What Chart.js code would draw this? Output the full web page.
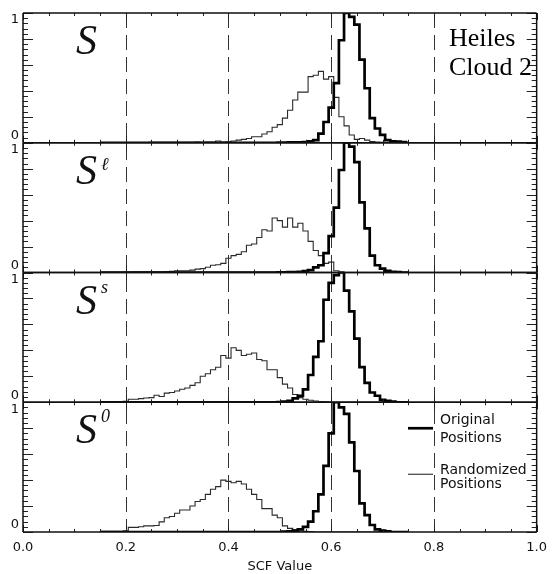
<!DOCTYPE html>
<html><head><meta charset="utf-8">
<script src="https://cdn.jsdelivr.net/npm/chart.js@4.4.0/dist/chart.umd.min.js"></script>
<style>html,body{margin:0;padding:0;background:#fff;}canvas{display:block;}</style>
</head><body>
<canvas id="c" width="555" height="574"></canvas>
<script>
// bin centres (SCF value)
const scfBins = [0.15,0.16,0.17,0.18,0.19,0.20,0.21,0.22,0.23,0.24,
                 0.25,0.26,0.27,0.28,0.29,0.30,0.31,0.32,0.33,0.34,
                 0.35,0.36,0.37,0.38,0.39,0.40,0.41,0.42,0.43,0.44,
                 0.45,0.46,0.47,0.48,0.49,0.50,0.51,0.52,0.53,0.54,
                 0.55,0.56,0.57,0.58,0.59,0.60,0.61,0.62,0.63,0.64,
                 0.65,0.66,0.67,0.68,0.69,0.70,0.71,0.72,0.73,0.74,
                 0.75];

// Panel S
const origS = [0,0,0,0,0,0,0,0,0,0,
               0,0,0,0,0,0,0,0,0,0,
               0,0,0,0,0,0,0,0,0,0,
               0,0,0,0,0,0.002,0.002,0.003,0.003,0.004,
               0.005,0.01,0.02,0.07,0.16,0.27,0.46,0.79,1.0,0.97,
               0.91,0.64,0.42,0.19,0.11,0.06,0.02,0.01,0.008,0.005,
               0];
const randS = [0,0,0,0,0,0,0,0,0,0,
               0.003,0.003,0.003,0.003,0.003,0.004,0.003,0.004,0.004,0.005,
               0.004,0.005,0.006,0.013,0.006,0.008,0.013,0.02,0.026,0.033,
               0.046,0.046,0.067,0.085,0.12,0.14,0.19,0.25,0.33,0.39,
               0.39,0.51,0.52,0.55,0.49,0.51,0.35,0.20,0.13,0.06,
               0.026,0.033,0.02,0.01,0.005,0.003,0,0,0,0,
               0];
// Panel S^l
const origL = [0,0,0,0,0,0,0,0,0,0,
               0,0,0,0,0,0,0,0,0,0,
               0,0,0,0,0,0,0,0,0,0,
               0,0,0,0,0,0.002,0.002,0.003,0.004,0.005,
               0.01,0.018,0.04,0.056,0.15,0.28,0.50,0.79,1.0,0.97,
               0.85,0.54,0.34,0.13,0.056,0.03,0.013,0.005,0.003,0,
               0];
const randL = [0,0,0,0,0,0.002,0.002,0.003,0.003,0.003,
               0.003,0.004,0.004,0.005,0.01,0.013,0.013,0.013,0.018,0.026,
               0.03,0.04,0.056,0.06,0.07,0.11,0.13,0.14,0.16,0.21,
               0.22,0.27,0.33,0.32,0.42,0.40,0.35,0.42,0.35,0.38,
               0.32,0.24,0.17,0.13,0.07,0.08,0.013,0.005,0,0,
               0,0,0,0,0,0,0,0,0,0,
               0];
// Panel S^s
const origSs = [0,0,0,0,0,0,0,0,0,0,
                0,0,0,0,0,0,0,0,0,0,
                0,0,0,0,0,0,0,0,0,0,
                0,0,0,0,0,0.002,0.005,0.01,0.03,0.05,
                0.10,0.21,0.35,0.47,0.79,0.92,0.98,1.0,0.86,0.70,
                0.49,0.27,0.15,0.075,0.05,0.018,0.01,0.005,0,0,
                0];
const randSs = [0.003,0.004,0.004,0.005,0.006,0.008,0.023,0.023,0.028,0.033,
                0.036,0.054,0.044,0.07,0.075,0.087,0.10,0.11,0.13,0.15,
                0.20,0.22,0.25,0.27,0.36,0.34,0.42,0.40,0.36,0.37,
                0.38,0.33,0.32,0.25,0.25,0.19,0.14,0.11,0.06,0.036,
                0.023,0.015,0.01,0.005,0.003,0,0,0,0,0,
                0,0,0,0,0,0,0,0,0,0,
                0];
// Panel S^0
const orig0 = [0,0,0,0,0,0,0,0,0,0,
               0,0,0,0,0,0,0,0,0,0,
               0,0,0,0,0,0,0,0,0,0,
               0,0,0,0,0,0,0.003,0.005,0.01,0.02,
               0.04,0.08,0.16,0.29,0.51,0.76,1.0,0.96,0.91,0.69,
               0.47,0.22,0.13,0.054,0.02,0.01,0.005,0,0,0,
               0];
const rand0 = [0.005,0.005,0.005,0.005,0.005,0.01,0.036,0.036,0.04,0.047,
               0.047,0.05,0.078,0.11,0.12,0.145,0.17,0.17,0.20,0.235,
               0.25,0.29,0.33,0.35,0.40,0.39,0.38,0.39,0.37,0.33,
               0.29,0.25,0.18,0.18,0.13,0.11,0.047,0.028,0.015,0.008,
               0.005,0.003,0,0,0,0,0,0,0,0,
               0,0,0,0,0,0,0,0,0,0,
               0];

const panelIds = ['y1','y2','y3','y4'];
const panelOrig = [origS, origL, origSs, orig0];
const panelRand = [randS, randL, randSs, rand0];
const panelSymbol = 'S';
const panelSupers = ['', '\u2113', 's', '0'];
const dashedAt = [0.2, 0.4, 0.6, 0.8];
const yTickLabels = ['0', '1'];
const legendOrig = ['Original', 'Positions'];
const legendRand = ['Randomized', 'Positions'];
const cloudLabel = ['Heiles', 'Cloud 2'];
const xTitle = 'SCF Value';

const toPts = arr => scfBins.map((b, i) => ({x: b, y: arr[i]}));

const datasets = [];
panelIds.forEach((id, k) => {
  datasets.push({data: toPts(panelOrig[k]), yAxisID: id, borderColor: '#000', borderWidth: 2.7,
    stepped: 'middle', pointRadius: 0, fill: false, order: 0});
  datasets.push({data: toPts(panelRand[k]), yAxisID: id, borderColor: '#2a2a2a', borderWidth: 1.1,
    stepped: 'middle', pointRadius: 0, fill: false, order: 1});
});

const panelAxis = () => ({type: 'linear', min: 0, max: 1, display: false, position: 'right',
  stack: 'panels', stackWeight: 1, offset: false});

const SANS = '"DejaVu Sans", sans-serif';
const SERIF = '"Liberation Serif", "Times New Roman", serif';

const framePlugin = {
  id: 'frames',
  beforeDatasetsDraw(chart) {
    const ctx = chart.ctx, xs = chart.scales.x, a = chart.chartArea;
    ctx.save();
    ctx.strokeStyle = '#333'; ctx.lineWidth = 1; ctx.setLineDash([15, 7]);
    dashedAt.forEach(v => {
      const px = Math.round(xs.getPixelForValue(v)) + 0.5;
      ctx.beginPath(); ctx.moveTo(px, a.top); ctx.lineTo(px, a.bottom); ctx.stroke();
    });
    ctx.restore();
  },
  afterDatasetsDraw(chart) {
    const ctx = chart.ctx, xs = chart.scales.x;
    const L = xs.getPixelForValue(0), R = xs.getPixelForValue(1);
    const panels = panelIds.map((id, k) => ({k, s: chart.scales[id]}))
      .sort((p, q) => p.s.getPixelForValue(1) - q.s.getPixelForValue(1));
    ctx.save();
    panels.forEach(({k, s}) => {
      const top = s.getPixelForValue(1), bot = s.getPixelForValue(0);
      ctx.strokeStyle = '#222'; ctx.lineWidth = 1;
      for (let i = 0; i <= 25; i++) {
        const py = Math.round(s.getPixelForValue(i * 0.04)) + 0.5;
        const len = (i % 5 === 0) ? 10 : 5;
        ctx.beginPath();
        ctx.moveTo(L, py); ctx.lineTo(L + len, py);
        ctx.moveTo(R, py); ctx.lineTo(R - len, py);
        ctx.stroke();
      }
      for (let j = 0; j <= 20; j++) {
        const px = Math.round(xs.getPixelForValue(j * 0.05)) + 0.5;
        const len = (j % 4 === 0) ? 7 : 3;
        ctx.beginPath();
        ctx.moveTo(px, top); ctx.lineTo(px, top + len);
        ctx.moveTo(px, bot); ctx.lineTo(px, bot - len);
        ctx.stroke();
      }
      ctx.lineWidth = 1.5; ctx.strokeStyle = '#111';
      ctx.beginPath();
      ctx.moveTo(L, top); ctx.lineTo(R, top);
      ctx.moveTo(L, bot); ctx.lineTo(R, bot);
      ctx.moveTo(L, top); ctx.lineTo(L, bot);
      ctx.moveTo(R, top); ctx.lineTo(R, bot);
      ctx.stroke();
      ctx.fillStyle = '#111'; ctx.font = '13px ' + SANS;
      ctx.textAlign = 'center'; ctx.textBaseline = 'middle';
      ctx.fillText(yTickLabels[1], L - 8, top + 7);
      ctx.fillText(yTickLabels[0], L - 8, bot - 7);
      ctx.textAlign = 'left'; ctx.textBaseline = 'alphabetic';
      ctx.font = 'italic 42px ' + SERIF;
      ctx.fillText(panelSymbol, L + 53, top + 41);
      if (panelSupers[k]) {
        ctx.font = 'italic 18px ' + SERIF;
        ctx.fillText(panelSupers[k], L + 78, top + (k === 1 ? 27 : 20));
      }
    });
    const p1top = panels[0].s.getPixelForValue(1);
    ctx.font = '26px ' + SERIF; ctx.fillStyle = '#000';
    ctx.textAlign = 'left'; ctx.textBaseline = 'alphabetic';
    ctx.fillText(cloudLabel[0], 449, p1top + 33);
    ctx.fillText(cloudLabel[1], 449, p1top + 62);
    const p4top = panels[3].s.getPixelForValue(1);
    ctx.strokeStyle = '#000'; ctx.lineWidth = 2.7;
    ctx.beginPath(); ctx.moveTo(408, p4top + 26); ctx.lineTo(433, p4top + 26); ctx.stroke();
    ctx.strokeStyle = '#2a2a2a'; ctx.lineWidth = 1.1;
    ctx.beginPath(); ctx.moveTo(408, p4top + 72); ctx.lineTo(433, p4top + 72); ctx.stroke();
    ctx.fillStyle = '#111'; ctx.font = '14px ' + SANS;
    ctx.fillText(legendOrig[0], 440, p4top + 22);
    ctx.fillText(legendOrig[1], 440, p4top + 40);
    ctx.fillText(legendRand[0], 440, p4top + 72);
    ctx.fillText(legendRand[1], 440, p4top + 86);
    ctx.restore();
  }
};

new Chart(document.getElementById('c'), {
  type: 'line',
  data: {datasets},
  options: {
    responsive: false, animation: false, events: [],
    layout: {padding: {left: 23, right: 13, top: 13, bottom: 0}},
    plugins: {legend: {display: false}, tooltip: {enabled: false}},
    scales: {
      x: {type: 'linear', min: 0, max: 1, position: 'bottom',
        grid: {display: false, drawTicks: false}, border: {display: false},
        ticks: {stepSize: 0.2, padding: 8, color: '#111', autoSkip: false, maxRotation: 0,
          font: {family: SANS, size: 13}, callback: v => Number(v).toFixed(1)},
        title: {display: true, text: xTitle, color: '#111', font: {family: SANS, size: 13},
          padding: {top: 0, bottom: 0}},
        afterFit: s => { s.height = 42; }},
      y1: panelAxis(), y2: panelAxis(), y3: panelAxis(), y4: panelAxis()
    }
  },
  plugins: [framePlugin]
});
</script>
</body></html>
